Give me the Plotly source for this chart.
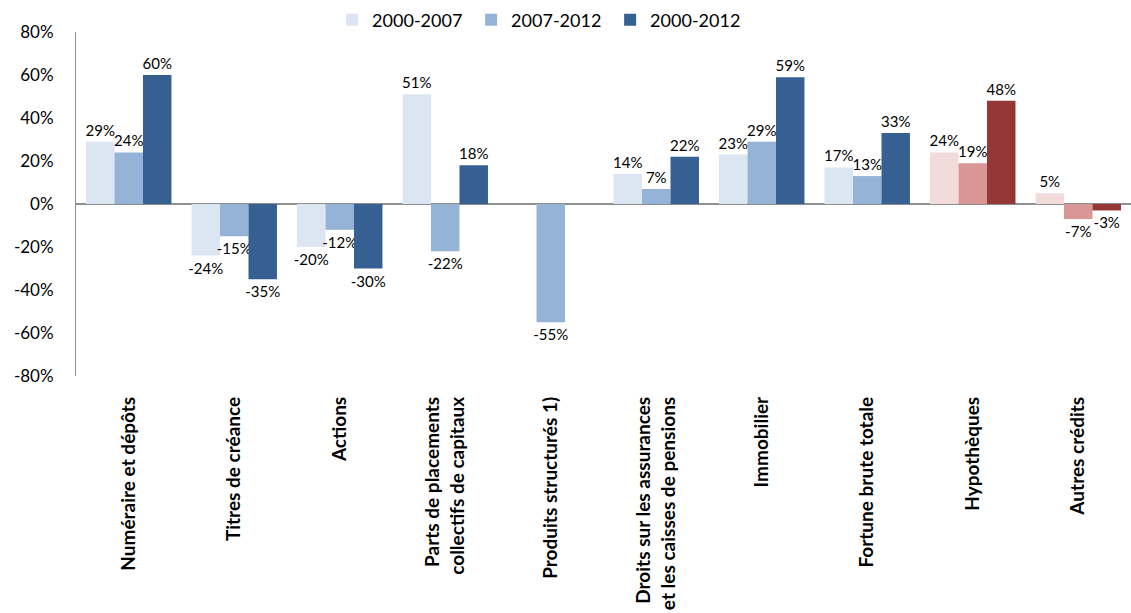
import plotly.graph_objects as go

categories = [
    "Numéraire et dépôts",
    "Titres de créance",
    "Actions",
    "Parts de placements<br>collectifs de capitaux",
    "Produits structurés 1)",
    "Droits sur les assurances<br>et les caisses de pensions",
    "Immobilier",
    "Fortune brute totale",
    "Hypothèques",
    "Autres crédits",
]
series_names = ["2000-2007", "2007-2012", "2000-2012"]
v_2000_2007 = [29, -24, -20, 51, None, 14, 23, 17, 24, 5]
v_2007_2012 = [24, -15, -12, -22, -55, 7, 29, 13, 19, -7]
v_2000_2012 = [60, -35, -30, 18, None, 22, 59, 33, 48, -3]
y_ticks = [-80, -60, -40, -20, 0, 20, 40, 60, 80]

blue = ["#DCE6F2", "#95B3D7", "#376092"]
red = ["#F2DCDB", "#D99694", "#953735"]
red_cats = {"Hypothèques", "Autres crédits"}

fig = go.Figure()
for i, (name, vals) in enumerate(zip(series_names, [v_2000_2007, v_2007_2012, v_2000_2012])):
    colors = [red[i] if c in red_cats else blue[i] for c in categories]
    fig.add_trace(go.Bar(
        x=categories, y=vals, name=name,
        marker=dict(color=colors, line=dict(width=0)),
        text=[("" if v is None else f"{v}%") for v in vals],
        textposition="outside",
        constraintext="none",
        textfont=dict(family="Lato, sans-serif", size=15, color="#000000"),
        cliponaxis=False,
    ))

fig.update_layout(
    width=1131, height=613,
    margin=dict(l=76, r=0, t=32, b=237, autoexpand=False),
    paper_bgcolor="white", plot_bgcolor="white",
    barmode="group", bargap=0.19, bargroupgap=0,
    font=dict(family="Lato, sans-serif", size=17, color="#000000"),
    legend=dict(orientation="h", xref="container", yref="container",
                x=0.478, xanchor="center", y=1 - 20 / 613, yanchor="middle",
                font=dict(size=18), traceorder="normal",
                entrywidth=94, entrywidthmode="pixels"),
    xaxis=dict(tickangle=-90, showline=False, ticks="", ticklabelstandoff=16,
               automargin=False,
               tickfont=dict(family="Lato, sans-serif", size=19, weight="bold")),
    yaxis=dict(range=[-80, 80], tickvals=y_ticks, ticktext=[f"{t}%" for t in y_ticks],
               showgrid=False, zeroline=True, zerolinecolor="#909090", zerolinewidth=2,
               showline=True, linecolor="#909090", linewidth=1, ticks="",
               ticklabelstandoff=18, automargin=False, tickfont=dict(size=17)),
    showlegend=True,
)

fig.write_html("out.html", config={"displayModeBar": False},
               post_script="document.body.style.margin='0';")
